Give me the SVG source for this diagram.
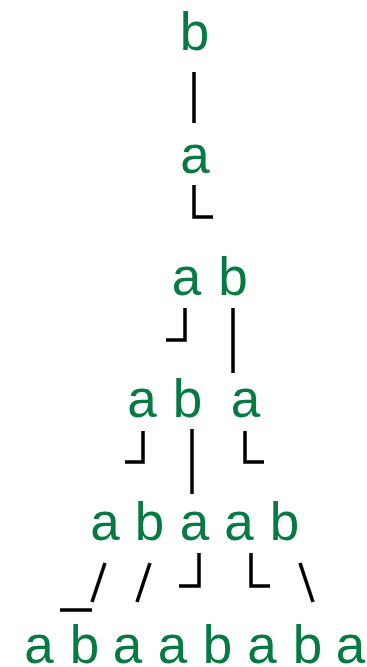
<svg xmlns="http://www.w3.org/2000/svg" width="367" height="667" viewBox="0 0 367 667">
<style>
text{font-family:"Liberation Sans",Arial,sans-serif;font-size:53px;fill:#067a42;text-anchor:middle}
.c path{fill:none;stroke:#000;stroke-width:3.5;stroke-linecap:butt;stroke-linejoin:miter}
</style>
<rect width="367" height="667" fill="#fff"/>
<g id="row1"><g id="n1"><text x="194.5" y="50">b</text></g></g>
<g id="row2"><g id="n2"><text x="195" y="172.5">a</text></g></g>
<g id="row3">
<g id="n3a"><text x="186.5" y="294.5">a</text></g>
<g id="n3b"><text x="233" y="294.5">b</text></g>
</g>
<g id="row4">
<g id="n4a"><text x="142" y="416.5">a</text></g>
<g id="n4b"><text x="187.5" y="416.5">b</text></g>
<g id="n4c"><text x="245.5" y="416.5">a</text></g>
</g>
<g id="row5">
<g id="n5a"><text x="105" y="539.5">a</text></g>
<g id="n5b"><text x="149.5" y="539.5">b</text></g>
<g id="n5c"><text x="194.5" y="539.5">a</text></g>
<g id="n5d"><text x="239" y="539.5">a</text></g>
<g id="n5e"><text x="284.5" y="539.5">b</text></g>
</g>
<g id="row6">
<g id="n6a"><text x="39" y="662.5">a</text></g>
<g id="n6b"><text x="84.5" y="662.5">b</text></g>
<g id="n6c"><text x="127.5" y="662.5">a</text></g>
<g id="n6d"><text x="172.5" y="662.5">a</text></g>
<g id="n6e"><text x="217.5" y="662.5">b</text></g>
<g id="n6f"><text x="262" y="662.5">a</text></g>
<g id="n6g"><text x="307.5" y="662.5">b</text></g>
<g id="n6h"><text x="350.5" y="662.5">a</text></g>
</g>
<g id="connectors" class="c">
<path d="M194 72V123"/>
<path d="M194 185V217H213"/>
<path d="M185 308V340H166"/>
<path d="M233 308V373"/>
<path d="M143 431V462H125"/>
<path d="M192 429V494"/>
<path d="M245 431V462H264"/>
<path d="M105 563L92 602"/>
<path d="M60 610H92"/>
<path d="M150 563L137 602"/>
<path d="M199 553V586H179"/>
<path d="M251 553V586H270"/>
<path d="M300 563L313 602"/>
</g>
</svg>
